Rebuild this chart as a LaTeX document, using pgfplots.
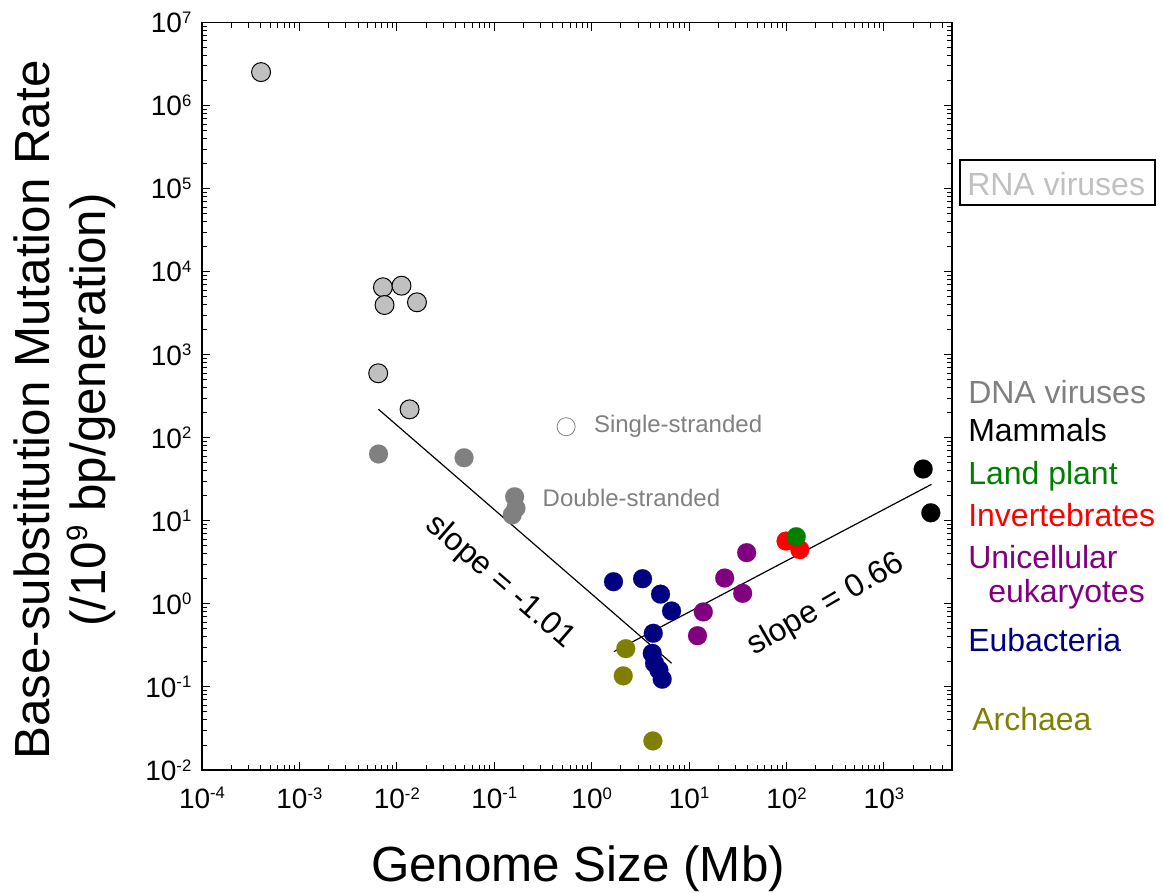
\documentclass[border=0pt]{standalone}
\usepackage{fontspec}
\setmainfont{Liberation Sans}
\usepackage{pgfplots}
\pgfplotsset{compat=1.18}
\definecolor{rnagray}{HTML}{C0C0C0}
\definecolor{dnagray}{HTML}{808080}
\definecolor{landgreen}{HTML}{008000}
\definecolor{unipurple}{HTML}{800080}
\definecolor{eubnavy}{HTML}{000080}
\definecolor{archolive}{HTML}{808000}
\newcommand{\tk}[1]{10\raisebox{7pt}{\fontsize{12.5}{13}\selectfont #1}}
\begin{document}
\begin{tikzpicture}
\useasboundingbox (-151.5pt,-91.5pt) rectangle (720.75pt,577.5pt);
\begin{loglogaxis}[
  at={(0pt,0pt)}, anchor=south west, scale only axis,
  width=562.5pt, height=560.6pt,
  xmin=1e-4, xmax=5e3, ymin=1e-2, ymax=1e7,
  xtick={1e-4,1e-3,1e-2,1e-1,1,10,100,1000},
  xticklabels={\tk{-4},\tk{-3},\tk{-2},\tk{-1},\tk{0},\tk{1},\tk{2},\tk{3}},
  ytick={1e-2,1e-1,1,10,100,1000,1e4,1e5,1e6,1e7},
  yticklabels={\tk{-2},\tk{-1},\tk{0},\tk{1},\tk{2},\tk{3},\tk{4},\tk{5},\tk{6},\tk{7}},
  minor xtick={2e-4,3e-4,4e-4,5e-4,6e-4,7e-4,8e-4,9e-4,
    2e-3,3e-3,4e-3,5e-3,6e-3,7e-3,8e-3,9e-3,
    2e-2,3e-2,4e-2,5e-2,6e-2,7e-2,8e-2,9e-2,
    2e-1,3e-1,4e-1,5e-1,6e-1,7e-1,8e-1,9e-1,
    2,3,4,5,6,7,8,9,20,30,40,50,60,70,80,90,
    200,300,400,500,600,700,800,900,2000,3000,4000},
  minor ytick={2e-2,3e-2,4e-2,5e-2,6e-2,7e-2,8e-2,9e-2,
    2e-1,3e-1,4e-1,5e-1,6e-1,7e-1,8e-1,9e-1,
    2,3,4,5,6,7,8,9,20,30,40,50,60,70,80,90,
    200,300,400,500,600,700,800,900,2000,3000,4000,5000,6000,7000,8000,9000,
    2e4,3e4,4e4,5e4,6e4,7e4,8e4,9e4,2e5,3e5,4e5,5e5,6e5,7e5,8e5,9e5,
    2e6,3e6,4e6,5e6,6e6,7e6,8e6,9e6},
  tick pos=both, tick align=inside,
  major tick length=6pt, minor tick length=3.75pt,
  every tick/.style={black, line width=0.75pt},
  axis line style={line width=1pt},
  xticklabel style={font=\fontsize{21}{22}\selectfont, yshift=-9.5pt},
  yticklabel style={font=\fontsize{21}{22}\selectfont, xshift=-4.5pt},
  clip=false,
]
% regression lines
\addplot[black, line width=0.9pt] coordinates {(6.49e-3,220) (6.61,0.193)};
\addplot[black, line width=0.9pt] coordinates {(1.69,0.266) (3080,27.5)};
% RNA viruses
\addplot[only marks, mark=*, mark size=7.1pt, mark options={fill=rnagray, draw=black, line width=0.75pt}]
  coordinates {(4.04e-4,2.53e6) (7.2e-3,6490) (0.01117,6780) (7.48e-3,3970) (0.0161,4280) (6.44e-3,598) (0.01352,220)};
% DNA viruses
\addplot[only marks, mark=*, mark size=7.1pt, mark options={fill=dnagray, draw=dnagray, line width=0.1pt}]
  coordinates {(6.49e-3,63.8) (0.049,57.5) (0.162,19.5) (0.167,14.2) (0.153,11.8)};
% single-stranded key marker
\addplot[only marks, mark=*, mark size=6.8pt, mark options={fill=white, draw=dnagray, line width=0.6pt}]
  coordinates {(0.547,136)};
% Eubacteria
\addplot[only marks, mark=*, mark size=7.1pt, mark options={fill=eubnavy, draw=eubnavy, line width=0.1pt}]
  coordinates {(1.675,1.85) (3.33,2.01) (5.09,1.31) (6.61,0.822) (4.29,0.443) (4.19,0.254) (4.42,0.193) (4.90,0.160) (5.30,0.124)};
% Archaea
\addplot[only marks, mark=*, mark size=7.1pt, mark options={fill=archolive, draw=archolive, line width=0.1pt}]
  coordinates {(2.24,0.289) (2.11,0.136) (4.25,0.0224)};
% Unicellular eukaryotes
\addplot[only marks, mark=*, mark size=7.1pt, mark options={fill=unipurple, draw=unipurple, line width=0.1pt}]
  coordinates {(14.0,0.80) (12.2,0.414) (23.2,2.05) (35.5,1.34) (39.0,4.14)};
% Invertebrates
\addplot[only marks, mark=*, mark size=7.1pt, mark options={fill=red, draw=red, line width=0.1pt}]
  coordinates {(98.9,5.71) (137,4.50)};
% Land plant
\addplot[only marks, mark=*, mark size=7.1pt, mark options={fill=landgreen, draw=landgreen, line width=0.1pt}]
  coordinates {(126,6.44)};
% Mammals
\addplot[only marks, mark=*, mark size=7.1pt, mark options={fill=black, draw=black, line width=0.1pt}]
  coordinates {(2530,42.1) (3030,12.5)};
\end{loglogaxis}
% in-plot annotations
\node[anchor=west, text=dnagray, font=\fontsize{18}{20}\selectfont] at (290.5pt,257.6pt) {Single-stranded};
\node[anchor=west, text=dnagray, font=\fontsize{18}{20}\selectfont] at (252pt,204pt) {Double-stranded};
\node[rotate=-41, font=\fontsize{24}{26}\selectfont] at (223.5pt,141pt) {slope = -1.01};
\node[rotate=30, font=\fontsize{24}{26}\selectfont] at (468pt,123.75pt) {slope = 0.66};
% axis labels
\node[anchor=base, font=\fontsize{37}{40}\selectfont] at (282pt,-83.7pt) {Genome Size (Mb)};
\node[anchor=base, rotate=90, font=\fontsize{37}{40}\selectfont] at (-114pt,270pt) {Base-substitution Mutation Rate};
\node[anchor=base, rotate=90, font=\fontsize{37}{40}\selectfont] at (-72pt,270pt) {(/10\raisebox{14pt}{\fontsize{22}{24}\selectfont 9} bp/generation)};
% category labels
\draw[line width=1.2pt] (568.5pt,423.75pt) rectangle (714.75pt,457.5pt);
\node[anchor=base west, text=rnagray, inner sep=0pt, font=\fontsize{24}{26}\selectfont] at (573.75pt,430.9pt) {RNA viruses};
\node[anchor=base west, text=dnagray, inner sep=0pt, font=\fontsize{24}{26}\selectfont] at (574.5pt,274.9pt) {DNA viruses};
\node[anchor=base west, text=black, inner sep=0pt, font=\fontsize{24}{26}\selectfont] at (574.5pt,246pt) {Mammals};
\node[anchor=base west, text=landgreen, inner sep=0pt, font=\fontsize{24}{26}\selectfont] at (574.5pt,213.75pt) {Land plant};
\node[anchor=base west, text=red, inner sep=0pt, font=\fontsize{24}{26}\selectfont] at (574.5pt,182.6pt) {Invertebrates};
\node[anchor=base west, text=unipurple, inner sep=0pt, font=\fontsize{24}{26}\selectfont] at (574.5pt,151.1pt) {Unicellular};
\node[anchor=base west, text=unipurple, inner sep=0pt, font=\fontsize{24}{26}\selectfont] at (589.5pt,125.25pt) {eukaryotes};
\node[anchor=base west, text=eubnavy, inner sep=0pt, font=\fontsize{24}{26}\selectfont] at (574.5pt,89pt) {Eubacteria};
\node[anchor=base west, text=archolive, inner sep=0pt, font=\fontsize{24}{26}\selectfont] at (577.5pt,29.6pt) {Archaea};
\end{tikzpicture}
\end{document}
